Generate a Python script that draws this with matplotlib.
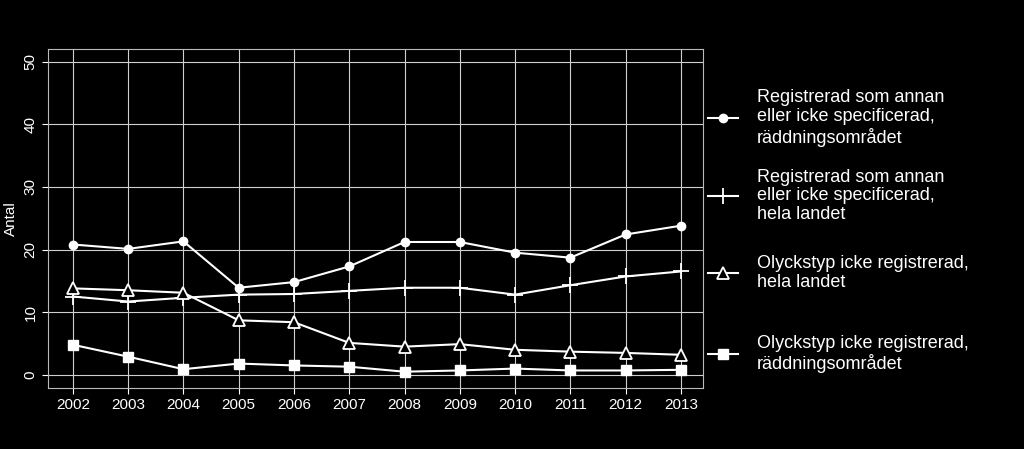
import matplotlib.pyplot as plt
from matplotlib.lines import Line2D

plt.rcParams["font.family"] = "Liberation Sans"

years = list(range(2002, 2014))
annan_rd = [20.8, 20.1, 21.3, 13.9, 14.8, 17.3, 21.2, 21.2, 19.5, 18.7, 22.4, 23.8]
annan_land = [12.5, 11.7, 12.3, 12.8, 12.9, 13.4, 13.9, 13.9, 12.8, 14.3, 15.7, 16.5]
ej_reg_land = [13.8, 13.5, 13.1, 8.7, 8.4, 5.1, 4.5, 4.9, 4.0, 3.7, 3.5, 3.2]
ej_reg_rd = [4.8, 2.9, 0.9, 1.8, 1.5, 1.3, 0.5, 0.7, 1.0, 0.7, 0.7, 0.8]

labels = [
    "Registrerad som annan\neller icke specificerad,\nräddningsområdet",
    "Registrerad som annan\neller icke specificerad,\nhela landet",
    "Olyckstyp icke registrerad,\nhela landet",
    "Olyckstyp icke registrerad,\nräddningsområdet",
]

fig = plt.figure(figsize=(10.24, 4.49), dpi=100, facecolor="black")
ax = fig.add_axes([48 / 1024, 1 - 388 / 449, 655 / 1024, 339 / 449], facecolor="black")

series = [
    (annan_rd, dict(marker="o", markersize=6, markerfacecolor="white")),
    (annan_land, dict(marker="+", markersize=12, markeredgewidth=1.3)),
    (ej_reg_land, dict(marker="^", markersize=9, markerfacecolor="black", markeredgewidth=1.3)),
    (ej_reg_rd, dict(marker="s", markersize=6.5, markerfacecolor="white")),
]
for vals, style in series:
    ax.plot(years, vals, color="white", lw=1.5, markeredgecolor="white", zorder=3, **style)

ax.set_xlim(2001.55, 2013.4)
ax.set_ylim(-2.1, 52)
ax.set_xticks(years)
ax.set_yticks(range(0, 51, 10))
ax.grid(True, color="#d0d0d0", lw=0.8)
ax.set_axisbelow(True)
for s in ax.spines.values():
    s.set_color("#bbbbbb")
ax.tick_params(colors="white", labelsize=11, length=4)
for t in ax.get_yticklabels():
    t.set_rotation(90)
    t.set_va("center")
ax.set_ylabel("Antal", color="white", fontsize=11)

leg_y = [118, 196, 273, 354]
for (_, st), lab, y in zip(series, labels, leg_y):
    yy = 1 - y / 449
    fig.lines.append(Line2D([708 / 1024, 723 / 1024, 738 / 1024], [yy, yy, yy],
                            transform=fig.transFigure, color="white", lw=1.5,
                            markeredgecolor="white", markevery=[1], **st))
    fig.text(757 / 1024, yy, lab, color="white", fontsize=13, va="center", ha="left",
             linespacing=1.15)

fig.savefig("out.png", dpi=100, facecolor="black")
